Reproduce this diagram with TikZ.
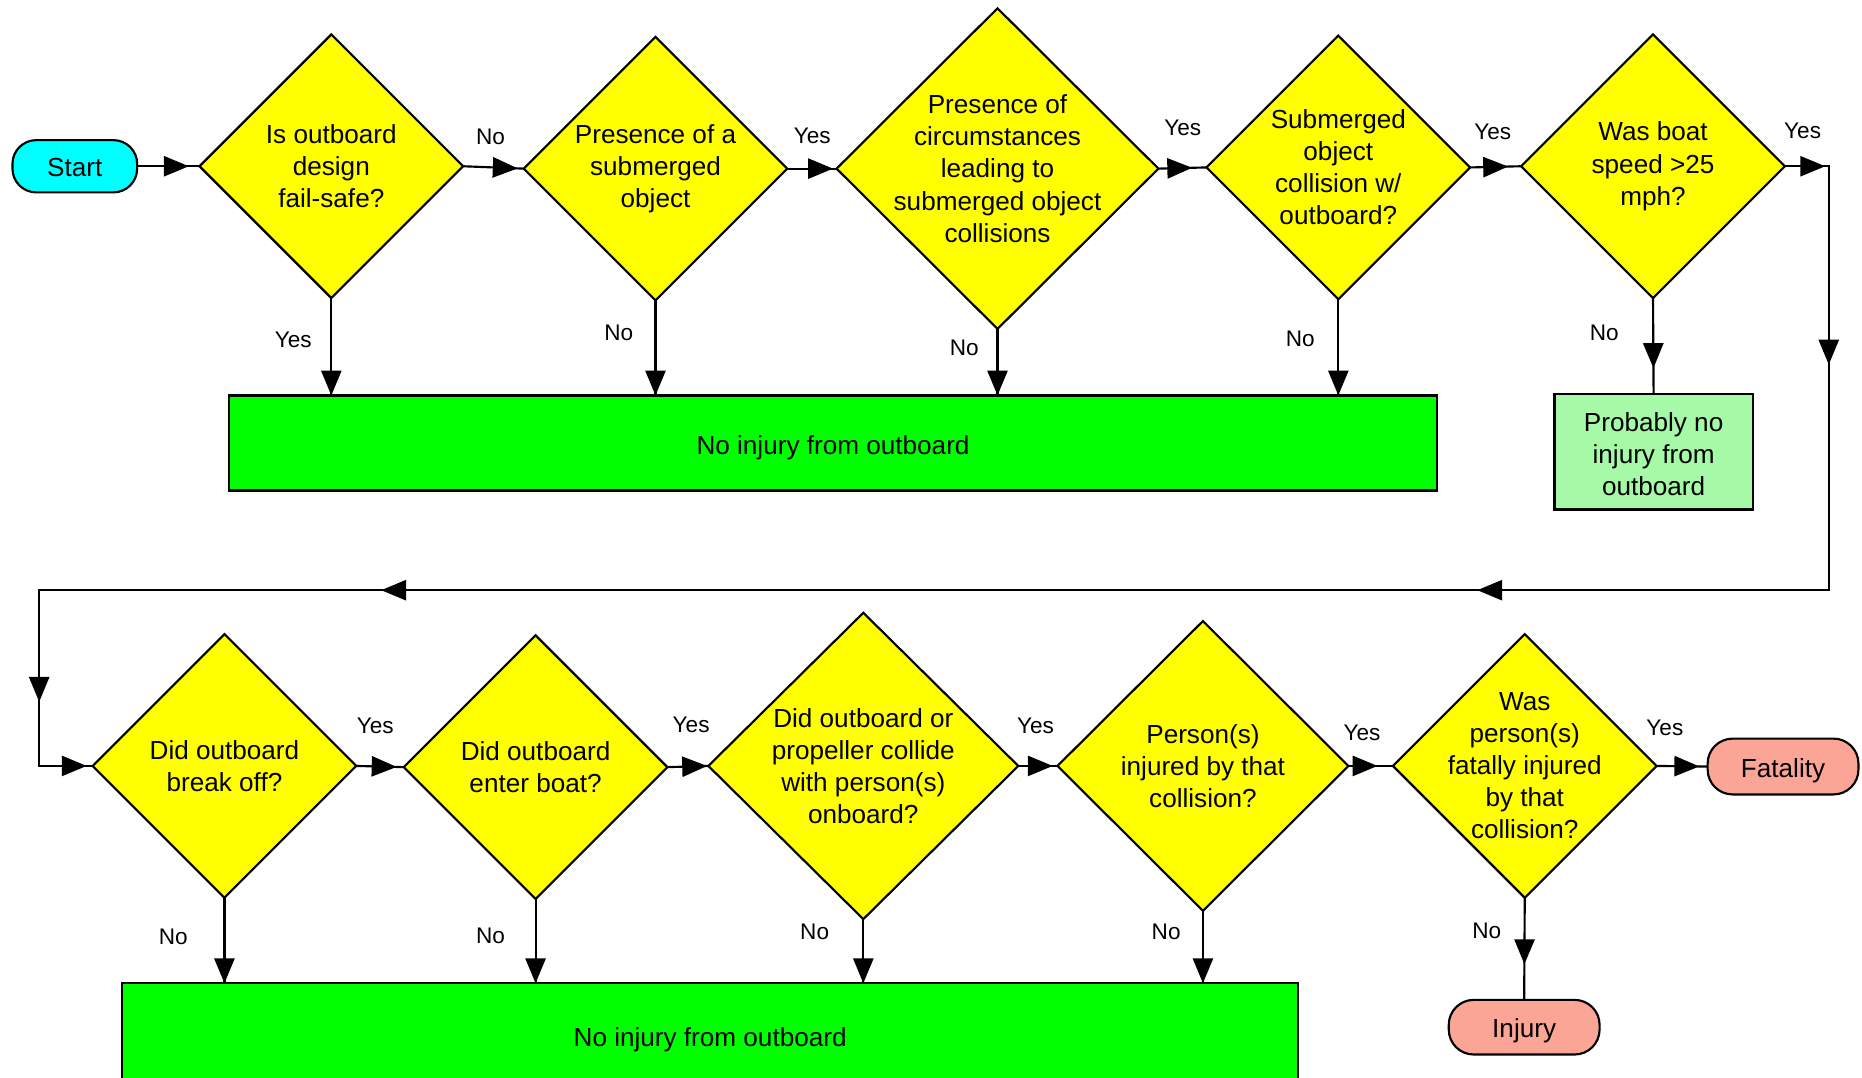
\documentclass[tikz,border=0pt]{standalone}
\usepackage{fontspec}
\setmainfont{Liberation Sans}
\usetikzlibrary{shapes.geometric, arrows.meta, decorations.markings}
\definecolor{dyellow}{HTML}{FFFF00}
\definecolor{dgreen}{HTML}{00FF00}
\definecolor{lgreen}{HTML}{A6F9A6}
\definecolor{scyan}{HTML}{00FFFF}
\definecolor{salmon}{HTML}{FBA596}
\begin{document}
\begin{tikzpicture}[x=1pt, y=-1pt, line width=1.8pt,
  dec/.style 2 args={diamond, draw, fill=dyellow, inner sep=0pt, outer sep=0pt, minimum width=#1, minimum height=#2},
  txt/.style={align=center, font=\fontsize{22}{27}\selectfont, inner sep=0pt},
  lab/.style={font=\fontsize{19}{22}\selectfont, inner sep=0pt},
  endbox/.style={draw, fill=dgreen, inner sep=0pt, outer sep=0pt, font=\fontsize{22}{27}\selectfont},
  term/.style={draw, rounded corners=21pt, inner sep=0pt, outer sep=0pt, minimum width=127pt, minimum height=47pt, font=\fontsize{22}{27}\selectfont, text height=18pt, text depth=0pt},
  arr/.style={postaction={decorate}, decoration={markings, mark=at position #1 with {\arrow{Triangle[length=21pt,width=17pt]}}}}
]
\useasboundingbox (0,0) rectangle (1568,907);

% ---------- top row ----------
\node[term, fill=scyan, minimum width=105pt, minimum height=44pt, rounded corners=20pt] (start) at (63,140) {Start};
\node[dec={222pt}{222pt}] (d1) at (279,140) {};
\node[txt] (t1) at (d1.center) {Is outboard\\design\\fail-safe?};
\node[dec={222pt}{222pt}] (d2) at (552,142) {};
\node[txt] (t2) at (d2.center) {Presence of a\\submerged\\object};
\node[dec={271pt}{270pt}] (d3) at (840,142) {};
\node[txt] (t3) at (d3.center) {Presence of\\circumstances\\leading to\\submerged object\\collisions};
\node[dec={222pt}{222pt}] (d4) at (1127,141) {};
\node[txt] (t4) at (d4.center) {Submerged\\object\\collision w/\\outboard?};
\node[dec={222pt}{222pt}] (d5) at (1392,140) {};
\node[txt] (t5) at (d5.center) {Was boat\\speed >25\\mph?};

\node[endbox, minimum width=1017pt, minimum height=80pt, text height=20pt, text depth=0pt] (g1) at (701.5,373) {No injury from outboard};
\node[endbox, fill=lgreen, minimum width=167pt, minimum height=97pt, align=center] (prob) at (1392.5,380.5) {};
\node[txt] (tp) at ([yshift=-2pt]prob.center) {Probably no\\injury from\\outboard};

\draw[arr=-9pt] (start.east) -- (d1.west);
\draw[arr=-5pt] (d1.east) -- (d2.west);
\draw[arr=-3pt] (d2.east) -- (d3.west);
\draw[arr=-12pt] (d3.east) -- (d4.west);
\draw[arr=-11pt] (d4.east) -- (d5.west);

\draw[arr=1] (d1.south) -- (d1.south |- g1.north);
\draw[arr=1] (d2.south) -- (d2.south |- g1.north);
\draw[arr=1] (d3.south) -- (d3.south |- g1.north);
\draw[arr=1] (d4.south) -- (d4.south |- g1.north);
\draw[arr=-22pt] (d5.south) -- (prob.north);

\node[lab] (l1) at (413,115) {No};
\node[lab] (l2) at (684,114) {Yes};
\node[lab] (l3) at (996,108) {Yes};
\node[lab] (l4) at (1257,111) {Yes};
\node[lab] (l5) at (1518,110) {Yes};
\node[lab] (l6) at (247,286) {Yes};
\node[lab] (l7) at (521,280) {No};
\node[lab] (l8) at (812,293) {No};
\node[lab] (l9) at (1095,285) {No};
\node[lab] (l10) at (1351,280) {No};

% ---------- bottom row ----------
\node[dec={222pt}{222pt}] (d6) at (189,645) {};
\node[txt] (t6) at (d6.center) {Did outboard\\break off?};
\node[dec={222pt}{222pt}] (d7) at (451,646) {};
\node[txt] (t7) at (d7.center) {Did outboard\\enter boat?};
\node[dec={261pt}{258pt}] (d8) at (727,645) {};
\node[txt] (t8) at (d8.center) {Did outboard or\\propeller collide\\with person(s)\\onboard?};
\node[dec={245pt}{244pt}] (d9) at (1013,645) {};
\node[txt] (t9) at (d9.center) {Person(s)\\injured by that\\collision?};
\node[dec={222pt}{222pt}] (d10) at (1284,645) {};
\node[txt] (t10) at (d10.center) {Was\\person(s)\\fatally injured\\by that\\collision?};

\node[term, fill=salmon] (fat) at (1501.5,645.5) {Fatality};
\node[term, fill=salmon, minimum height=46pt] (inj) at (1283.5,865) {Injury};
\node[endbox, minimum width=990pt, minimum height=86pt, text height=20pt, text depth=0pt] (g2) at (598,871) {No injury from outboard};

\draw[arr=-6pt] (d6.east) -- (d7.west);
\draw[arr=-1pt] (d7.east) -- (d8.west);
\draw[arr=-4pt] (d8.east) -- (d9.west);
\draw[arr=-13pt] (d9.east) -- (d10.west);
\draw[arr=-7pt] (d10.east) -- (fat.west);

\draw[arr=1] (d6.south) -- (d6.south |- g2.north);
\draw[arr=1] (d7.south) -- (d7.south |- g2.north);
\draw[arr=1] (d8.south) -- (d8.south |- g2.north);
\draw[arr=1] (d9.south) -- (d9.south |- g2.north);
\draw[arr=-30pt] (d10.south) -- (inj.north);

\node[lab] (l11) at (316,611) {Yes};
\node[lab] (l12) at (582,610) {Yes};
\node[lab] (l13) at (872,611) {Yes};
\node[lab] (l14) at (1147,617) {Yes};
\node[lab] (l15) at (1402,613) {Yes};
\node[lab] (l16) at (146,789) {No};
\node[lab] (l17) at (413,788) {No};
\node[lab] (l18) at (686,785) {No};
\node[lab] (l19) at (982,785) {No};
\node[lab] (l20) at (1252,784) {No};

% ---------- loop from top row to bottom row ----------
\coordinate (c1) at (1540,140);
\coordinate (c2) at (1540,497);
\coordinate (c3) at (33,497);
\coordinate (c4) at (33,645);
\draw[line join=miter, postaction={decorate}, decoration={markings,
    mark=at position 34pt with {\arrow{Triangle[length=21pt,width=17pt]}},
    mark=at position 204pt with {\arrow{Triangle[length=21pt,width=17pt]}},
    mark=at position 690pt with {\arrow{Triangle[length=21pt,width=17pt]}},
    mark=at position 1613pt with {\arrow{Triangle[length=21pt,width=17pt]}},
    mark=at position 1995pt with {\arrow{Triangle[length=21pt,width=17pt]}},
    mark=at position -5pt with {\arrow{Triangle[length=21pt,width=17pt]}}}]
  (d5.east) -- (c1) -- (c2) -- (c3) -- (c4) -- (d6.west);
\end{tikzpicture}
\end{document}
